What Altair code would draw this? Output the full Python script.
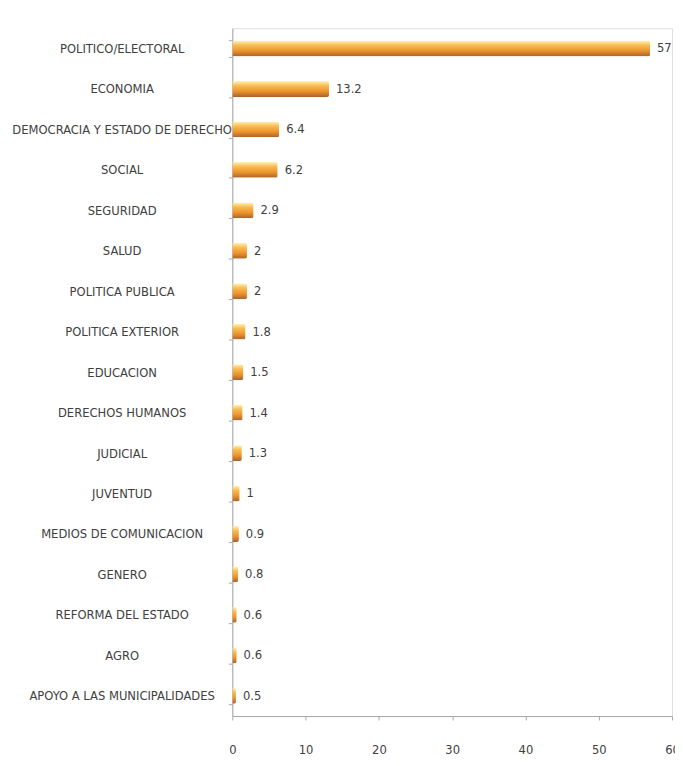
import altair as alt
import pandas as pd

categories = [
    "POLITICO/ELECTORAL", "ECONOMIA", "DEMOCRACIA Y ESTADO DE DERECHO", "SOCIAL",
    "SEGURIDAD", "SALUD", "POLITICA PUBLICA", "POLITICA EXTERIOR", "EDUCACION",
    "DERECHOS HUMANOS", "JUDICIAL", "JUVENTUD", "MEDIOS DE COMUNICACION",
    "GENERO", "REFORMA DEL ESTADO", "AGRO", "APOYO A LAS MUNICIPALIDADES",
]
values = [57, 13.2, 6.4, 6.2, 2.9, 2, 2, 1.8, 1.5, 1.4, 1.3, 1, 0.9, 0.8, 0.6, 0.6, 0.5]
x_ticks = [0, 10, 20, 30, 40, 50, 60]

df = pd.DataFrame({"tema": categories, "valor": values})

FONT = "DejaVu Sans Condensed, Liberation Sans, sans-serif"
TXT = "#404040"
AX = "#a8a8a8"

grad = alt.Gradient(
    gradient="linear", x1=0, y1=0, x2=0, y2=1,
    stops=[
        alt.GradientStop(color="#fff2b8", offset=0),
        alt.GradientStop(color="#f8bb50", offset=0.3),
        alt.GradientStop(color="#ec942c", offset=0.65),
        alt.GradientStop(color="#a9622c", offset=1),
    ],
)

y_enc = alt.Y(
    "tema:N", sort=categories, title=None,
    scale=alt.Scale(paddingInner=0.6, paddingOuter=0.3),
    axis=alt.Axis(
        labelAlign="center", labelPadding=108, labelFont=FONT, labelFontSize=13,
        labelColor=TXT, tickBand="extent", tickSize=4, tickColor=AX,
        domainColor=AX, labelLimit=400,
    ),
)
x_enc = alt.X(
    "valor:Q", title=None,
    scale=alt.Scale(domain=[0, 60], nice=False),
    axis=alt.Axis(
        values=x_ticks, grid=False, labelFont=FONT, labelFontSize=13,
        labelColor=TXT, labelPadding=24, tickSize=4, tickColor=AX,
        domainColor=AX, labelFlush=False,
    ),
)

bars = alt.Chart(df).mark_bar(size=16, color=grad, cornerRadiusEnd=2).encode(x=x_enc, y=y_enc)
labels = alt.Chart(df).mark_text(
    align="left", dx=7, font=FONT, fontSize=13, color=TXT
).encode(x="valor:Q", y=alt.Y("tema:N", sort=categories), text="valor:Q")

chart = (bars + labels).properties(
    width=445, height=696,
    autosize=alt.AutoSizeParams(type="none"),
    padding={"left": 227, "top": 16, "right": 3, "bottom": 44},
).configure_view(stroke=None).configure(background="white")

chart.save("out.html", embed_options={"renderer": "svg", "actions": False})
